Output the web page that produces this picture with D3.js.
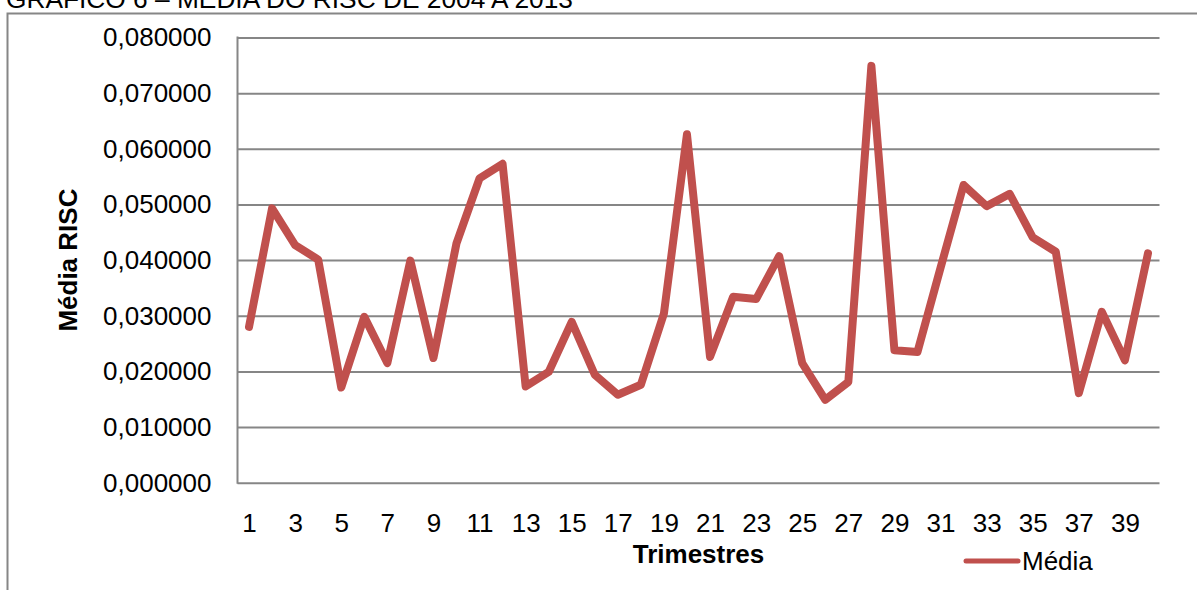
<!DOCTYPE html>
<html>
<head>
<meta charset="utf-8">
<script src="https://cdn.jsdelivr.net/npm/d3@7"></script>
<style>
  html, body { margin: 0; padding: 0; background: #fff; }
  svg { display: block; }
  text { font-family: Arial, "Liberation Sans", sans-serif; fill: #000; }
</style>
</head>
<body>
<svg id="chart" width="1197" height="590"></svg>
<script>
const titleText = "GRÁFICO 6 – MÉDIA DO RISC DE 2004 A 2013";
const categories = d3.range(1, 41);
const mediaValues = [
  0.0280, 0.0493, 0.0427, 0.0401, 0.0171, 0.0298, 0.0215, 0.0399, 0.0224, 0.0430,
  0.0547, 0.0573, 0.0173, 0.0199, 0.0289, 0.0194, 0.0158, 0.0176, 0.0304, 0.0626,
  0.0226, 0.0334, 0.0330, 0.0407, 0.0215, 0.0149, 0.0181, 0.0749, 0.0238, 0.0235,
  0.0386, 0.0535, 0.0497, 0.0519, 0.0441, 0.0415, 0.0161, 0.0307, 0.0220, 0.0412
];
const xTickLabels = categories.filter(d => d % 2 === 1);
const yTicks = [0, 0.01, 0.02, 0.03, 0.04, 0.05, 0.06, 0.07, 0.08];
const seriesName = "Média";
const xTitle = "Trimestres";
const yTitle = "Média RISC";

(function () {
const svg = d3.select("#chart");
const pL = 237.5, pR = 1159.5, pT = 37.5, pB = 482.7;
const grey = "#868686";
const red = "#C0504D";
const fs = 26;
const ff = "Arial, 'Liberation Sans', sans-serif";

// outer frame
svg.append("path")
  .attr("d", "M7.5,600 L7.5,13.5 L1210,13.5")
  .attr("fill", "none").attr("stroke", grey).attr("stroke-width", 2);

// title (clipped at the top)
svg.append("text")
  .attr("x", 6).attr("y", 8)
  .attr("font-size", fs)
  .attr("textLength", 567).attr("lengthAdjust", "spacingAndGlyphs")
  .text(titleText);

const x = d3.scalePoint().domain(categories).range([pL, pR]).padding(0.5);
const y = d3.scaleLinear().domain([0, 0.08]).range([pB, pT]);

// gridlines + y labels
const yAxis = d3.axisLeft(y).tickValues(yTicks).tickSize(-(pR - pL)).tickPadding(26)
  .tickFormat(d => d.toFixed(6).replace(".", ","));
const gy = svg.append("g").attr("transform", `translate(${pL},0)`).call(yAxis);
gy.select(".domain").remove();
gy.selectAll(".tick line").attr("stroke", grey).attr("stroke-width", 2);
gy.selectAll(".tick text").attr("font-size", fs).attr("font-family", ff).attr("fill", "#000");

// left axis line
svg.append("line").attr("x1", pL).attr("x2", pL).attr("y1", pT - 1).attr("y2", pB + 1)
  .attr("stroke", grey).attr("stroke-width", 2);

// x axis
const xAxis = d3.axisBottom(x).tickValues(xTickLabels).tickSize(0).tickPadding(31);
const gx = svg.append("g").attr("transform", `translate(0,${pB})`).call(xAxis);
gx.select(".domain").remove();
gx.selectAll(".tick text").attr("font-size", fs).attr("font-family", ff).attr("fill", "#000");

// line
const line = d3.line().x((d, i) => x(categories[i])).y(d => y(d));
svg.append("path")
  .datum(mediaValues)
  .attr("d", line)
  .attr("fill", "none")
  .attr("stroke", red)
  .attr("stroke-width", 8)
  .attr("stroke-linejoin", "round")
  .attr("stroke-linecap", "round");

// axis titles
svg.append("text")
  .attr("x", (pL + pR) / 2).attr("y", 563)
  .attr("text-anchor", "middle").attr("font-size", fs).attr("font-weight", "bold")
  .text(xTitle);
svg.append("text")
  .attr("transform", `translate(77,${(pT + pB) / 2}) rotate(-90)`)
  .attr("text-anchor", "middle").attr("font-size", fs).attr("font-weight", "bold")
  .text(yTitle);

// legend
svg.append("line").attr("x1", 966).attr("x2", 1018).attr("y1", 561).attr("y2", 561)
  .attr("stroke", red).attr("stroke-width", 5).attr("stroke-linecap", "round");
svg.append("text").attr("x", 1022).attr("y", 570).attr("font-size", fs).text(seriesName);
})();
</script>
</body>
</html>
